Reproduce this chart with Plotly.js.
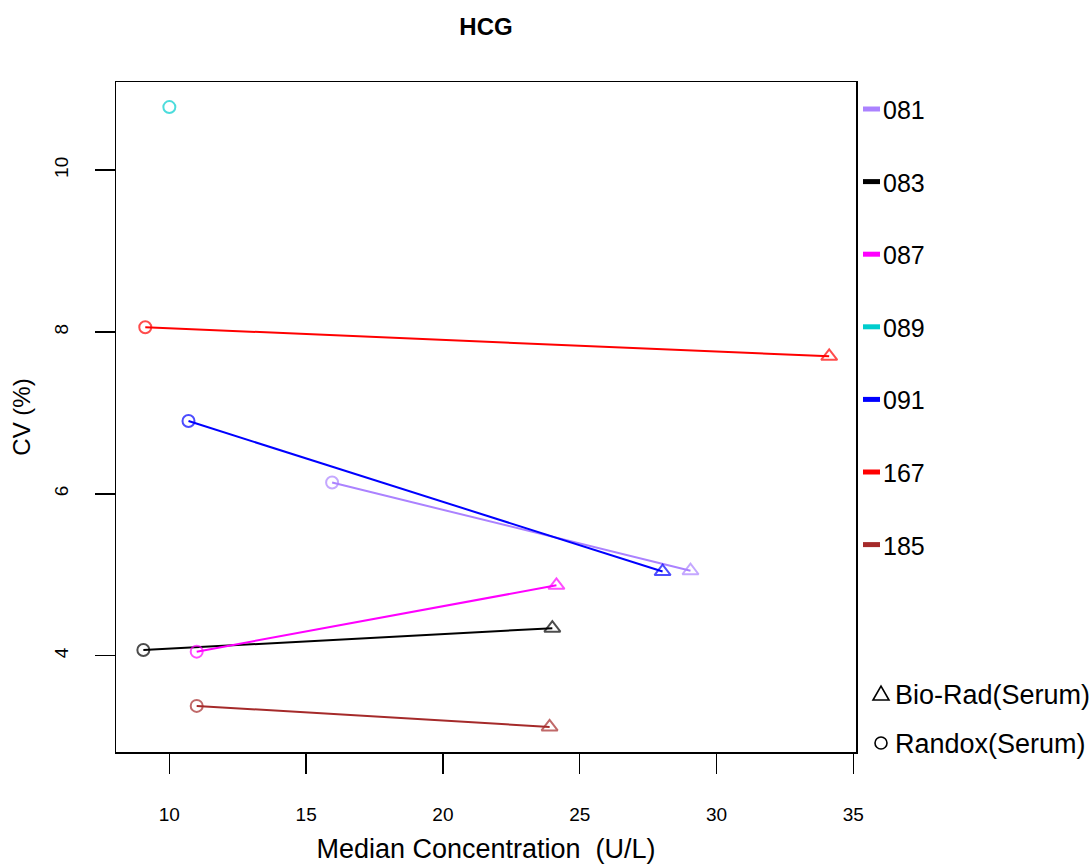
<!DOCTYPE html>
<html>
<head>
<meta charset="utf-8">
<script src="https://cdn.plot.ly/plotly-3.0.1.min.js"></script>
<style>html,body{margin:0;padding:0;background:#fff;}#chart{width:1091px;height:864px;}</style>
</head>
<body>
<div id="chart"></div>
<script>
// ---- data ----
const labs = ['081', '083', '087', '089', '091', '167', '185'];
const labColors = ['#AB82FF', '#000000', '#FF00FF', '#00CDCD', '#0000FF', '#FF0000', '#A52A2A'];
const randoxX = [15.95, 9.05, 11.0, 10.0, 10.7, 9.12, 11.0];
const randoxCV = [6.14, 4.07, 4.05, 10.78, 6.90, 8.06, 3.38];
const bioradX = [29.05, 24.0, 24.15, null, 28.03, 34.12, 23.9];
const bioradCV = [5.05, 4.34, 4.87, null, 5.04, 7.70, 3.12];
const methods = ['Bio-Rad(Serum)', 'Randox(Serum)'];
const xTicks = [10, 15, 20, 25, 30, 35];
const yTicks = [4, 6, 8, 10];

// ---- layout geometry (pixels) ----
const W = 1091, H = 864;
const L = 116, R = 856, T = 82, B = 752;
const px2x = p => (p - L) / (R - L);
const px2y = p => (B - p) / (B - T);

const FONT = 'Liberation Sans, Arial, sans-serif';

const traces = labs.map((lab, i) => {
  const xs = [randoxX[i]], ys = [randoxCV[i]], sym = ['circle-open'], sz = [12];
  if (bioradX[i] !== null) { xs.push(bioradX[i]); ys.push(bioradCV[i]); sym.push('triangle-up-open'); sz.push(14); }
  return {
    type: 'scatter', mode: 'lines+markers', name: lab,
    x: xs, y: ys,
    line: {color: labColors[i], width: 2},
    marker: {symbol: sym, size: sz, color: labColors[i], line: {width: 2, color: labColors[i]}},
    showlegend: false, hoverinfo: 'x+y+name'
  };
});

// ---- custom legend (outside plot area) ----
const shapes = [];
const annotations = [];
const legY0 = 109, legStep = 72.6;
labs.forEach((lab, i) => {
  const yy = legY0 + i * legStep;
  shapes.push({type: 'line', xref: 'paper', yref: 'paper', x0: px2x(863), x1: px2x(880), y0: px2y(yy), y1: px2y(yy),
               line: {color: labColors[i], width: 5}});
  annotations.push({xref: 'paper', yref: 'paper', x: px2x(881), y: px2y(yy + 1), xanchor: 'left', yanchor: 'middle',
                    text: lab, showarrow: false, font: {family: FONT, size: 25, color: '#000'}});
});
// method legend
const triY = 694, cirY = 743, symX = 881;
shapes.push({type: 'path', xref: 'paper', yref: 'paper', xsizemode: 'pixel', ysizemode: 'pixel',
             xanchor: px2x(symX), yanchor: px2y(triY),
             path: 'M -8 -6 L 8 -6 L 0 8 Z', line: {color: '#000', width: 1.6}, fillcolor: 'rgba(0,0,0,0)'});
shapes.push({type: 'circle', xref: 'paper', yref: 'paper', xsizemode: 'pixel', ysizemode: 'pixel',
             xanchor: px2x(symX), yanchor: px2y(cirY), x0: -6, x1: 6, y0: -6, y1: 6,
             line: {color: '#000', width: 1.6}, fillcolor: 'rgba(0,0,0,0)'});
annotations.push({xref: 'paper', yref: 'paper', x: px2x(893), y: px2y(triY + 1), xanchor: 'left', yanchor: 'middle',
                  text: methods[0], showarrow: false, font: {family: FONT, size: 27, color: '#000'}});
annotations.push({xref: 'paper', yref: 'paper', x: px2x(893), y: px2y(cirY + 1), xanchor: 'left', yanchor: 'middle',
                  text: methods[1], showarrow: false, font: {family: FONT, size: 27, color: '#000'}});

const layout = {
  width: W, height: H,
  margin: {l: L, r: W - R, t: T, b: H - B, pad: 0},
  paper_bgcolor: '#fff', plot_bgcolor: '#fff',
  font: {family: FONT, color: '#000'},
  title: {text: '<b>HCG</b>', font: {family: FONT, size: 24, color: '#000'},
          xref: 'paper', x: 0.5, xanchor: 'center', yref: 'container', y: 1 - 27 / H, yanchor: 'middle'},
  xaxis: {
    range: [8.05, 35.1], tickvals: xTicks, ticktext: xTicks.map(String),
    showgrid: false, zeroline: false,
    showline: true, mirror: true, linecolor: '#000', linewidth: 1.5,
    ticks: 'outside', ticklen: 20, tickwidth: 1.5, tickcolor: '#000',
    tickfont: {family: FONT, size: 19, color: '#000'},
    ticklabelstandoff: 25,
    title: {text: 'Median Concentration  (U/L)', font: {family: FONT, size: 27, color: '#000'}, standoff: 19},
    automargin: false
  },
  yaxis: {
    range: [2.81, 11.09], tickvals: yTicks, ticktext: yTicks.map(String),
    showgrid: false, zeroline: false,
    showline: true, mirror: true, linecolor: '#000', linewidth: 1.5,
    ticks: 'outside', ticklen: 20, tickwidth: 1.5, tickcolor: '#000',
    tickangle: -90,
    tickfont: {family: FONT, size: 19, color: '#000'},
    ticklabelstandoff: 19,
    title: {text: 'CV (%)', font: {family: FONT, size: 24, color: '#000'}, standoff: 13},
    automargin: false
  },
  shapes: shapes,
  annotations: annotations,
  showlegend: false
};

Plotly.newPlot('chart', traces, layout, {displayModeBar: false, staticPlot: true});
</script>
</body>
</html>
